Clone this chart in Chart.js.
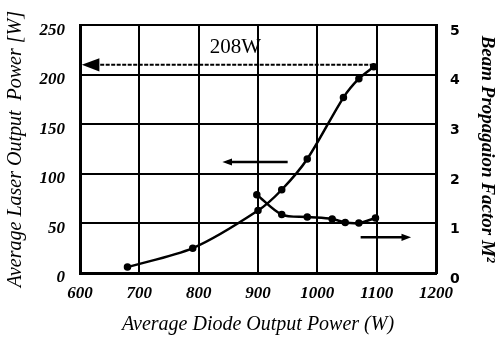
<!DOCTYPE html>
<html>
<head>
<meta charset="utf-8">
<script src="https://cdn.jsdelivr.net/npm/chart.js@4"></script>
<style>
  html, body { margin: 0; padding: 0; background: #fff; }
  #wrap { width: 498px; height: 340px; position: relative; }
</style>
</head>
<body>
<div id="wrap"><canvas id="myChart"></canvas></div>
<script>
// data
const diodeLaser = [680, 790, 900, 940, 983, 1044, 1070, 1095];
const laserPower = [6, 25, 63, 84, 115, 177, 196, 208];
const diodeBeam = [898, 940, 983, 1025, 1047, 1070, 1098];
const beamFactor = [1.58, 1.18, 1.13, 1.09, 1.02, 1.01, 1.11];
const xTicks = [600, 700, 800, 900, 1000, 1100, 1200];
const yTicks = [0, 50, 100, 150, 200, 250];
const y2Ticks = [0, 1, 2, 3, 4, 5];

const toPoints = (xs, ys) => xs.map((x, i) => ({ x: x, y: ys[i] }));

const serif = "'Liberation Serif', 'DejaVu Serif', serif";

// arrows and label drawn on top of the plot
const arrowPlugin = {
  id: "arrows",
  afterDatasetsDraw(chart) {
    const ctx = chart.ctx;
    const sx = chart.scales.x, sy = chart.scales.y;
    const px = (v) => sx.getPixelForValue(v);
    const py = (v) => sy.getPixelForValue(v);

    function arrow(x1, x2, y, head, dashed) {
      const a = px(x1), b = px(x2), yy = py(y);
      const dir = b > a ? 1 : -1;
      ctx.save();
      ctx.strokeStyle = "#000";
      ctx.fillStyle = "#000";
      ctx.lineWidth = dashed ? 2 : 2.5;
      if (dashed) ctx.setLineDash([4, 1.5]);
      ctx.beginPath();
      ctx.moveTo(a, yy);
      ctx.lineTo(b - dir * head * 0.8, yy);
      ctx.stroke();
      ctx.setLineDash([]);
      ctx.beginPath();
      ctx.moveTo(b, yy);
      ctx.lineTo(b - dir * head * 1.6, yy - head * 0.6);
      ctx.lineTo(b - dir * head * 1.6, yy + head * 0.6);
      ctx.closePath();
      ctx.fill();
      ctx.restore();
    }

    arrow(1095, 603, 210, 11, true);
    arrow(950, 840, 112, 6, false);
    arrow(1073, 1158, 36, 6, false);

    ctx.save();
    ctx.fillStyle = "#000";
    ctx.font = "21px " + serif;
    ctx.textAlign = "center";
    ctx.textBaseline = "middle";
    ctx.fillText("208W", px(862), py(228));
    ctx.restore();
  }
};

const ctx = document.getElementById("myChart").getContext("2d");

const myChart = new Chart(ctx, {
  type: "line",
  data: {
    datasets: [
      {
        label: "Laser output",
        data: toPoints(diodeLaser, laserPower),
        yAxisID: "y",
        borderColor: "#000",
        backgroundColor: "#000",
        borderWidth: 2.5,
        pointRadius: 2.5,
        pointHoverRadius: 2.5,
        tension: 0.3,
        fill: false,
      },
      {
        label: "M2",
        data: toPoints(diodeBeam, beamFactor),
        yAxisID: "y2",
        borderColor: "#000",
        backgroundColor: "#000",
        borderWidth: 2.5,
        pointRadius: 2.5,
        pointHoverRadius: 2.5,
        tension: 0.3,
        fill: false,
      },
    ],
  },
  options: {
    responsive: true,
    maintainAspectRatio: false,
    animation: false,
    layout: { padding: { top: 17, left: 0, right: 0, bottom: 0 } },
    plugins: {
      legend: { display: false },
      tooltip: { enabled: false },
    },
    scales: {
      x: {
        type: "linear",
        min: 600,
        max: 1200,
        afterBuildTicks: (s) => { s.ticks = xTicks.map((v) => ({ value: v })); },
        afterFit: (s) => { s.height = 67; },
        grid: { color: "#000", lineWidth: 2, drawTicks: false },
        border: { color: "#000", width: 3 },
        ticks: {
          color: "#000",
          padding: 10,
          maxRotation: 0,
          callback: (v) => String(v),
          font: { family: serif, style: "italic", weight: "bold", size: 17 },
        },
        title: {
          display: true,
          text: "Average Diode Output Power (W)",
          color: "#000",
          padding: { top: 4, bottom: 3 },
          font: { family: serif, style: "italic", size: 20 },
        },
      },
      y: {
        position: "left",
        min: 0,
        max: 250,
        afterBuildTicks: (s) => { s.ticks = yTicks.map((v) => ({ value: v })); },
        afterFit: (s) => { s.width = 80; },
        grid: { color: "#000", lineWidth: 2, drawTicks: false },
        border: { color: "#000", width: 3 },
        ticks: {
          color: "#000",
          padding: 15,
          labelOffset: 5,
          callback: (v) => String(v),
          font: { family: serif, style: "italic", weight: "bold", size: 17 },
        },
        title: {
          display: true,
          text: "Average Laser Output  Power [W]",
          color: "#000",
          padding: { top: 4, bottom: 0 },
          font: { family: serif, style: "italic", size: 20 },
        },
      },
      y2: {
        position: "right",
        min: 0,
        max: 5,
        afterBuildTicks: (s) => { s.ticks = y2Ticks.map((v) => ({ value: v })); },
        afterFit: (s) => { s.width = 62; },
        grid: { display: false, drawTicks: false },
        border: { color: "#000", width: 3 },
        ticks: {
          color: "#000",
          padding: 14,
          labelOffset: 6,
          font: { family: "'DejaVu Sans', sans-serif", weight: "bold", size: 14 },
        },
        title: {
          display: true,
          text: "Beam Propagaion Factor M²",
          color: "#000",
          padding: { top: 0, bottom: 1 },
          font: { family: serif, style: "italic", weight: "bold", size: 19 },
        },
      },
    },
  },
  plugins: [arrowPlugin],
});
</script>
</body>
</html>
